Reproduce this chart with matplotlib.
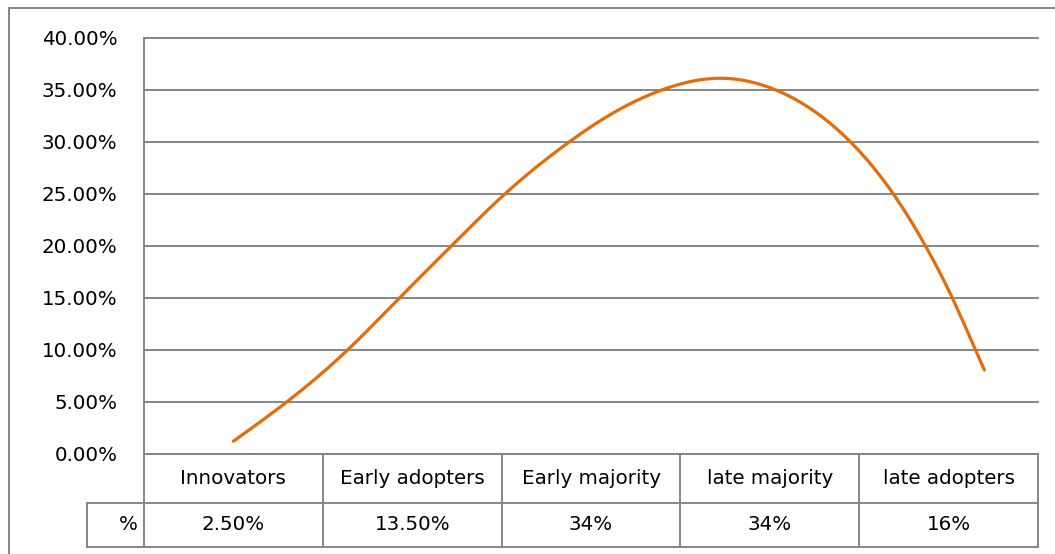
import matplotlib
matplotlib.use("Agg")
import matplotlib.pyplot as plt
import numpy as np
from matplotlib.lines import Line2D

# ---- data ----
categories = ["Innovators", "Early adopters", "Early majority", "late majority", "late adopters"]
table_values = ["2.50%", "13.50%", "34%", "34%", "16%"]
row_label = "%"
# smoothed curve as drawn (category position, percent)
curve_x = [0.0, 0.30, 0.64, 0.93, 1.22, 1.52, 1.88, 2.05, 2.40, 2.72, 3.03, 3.45, 3.69, 3.87, 4.02, 4.15, 4.20]
curve_y = [1.2, 5.0, 10.0, 15.0, 20.0, 25.0, 30.0, 32.0, 35.0, 36.1, 35.0, 30.0, 25.0, 20.0, 15.0, 10.0, 8.05]
yticks = [0, 5, 10, 15, 20, 25, 30, 35, 40]

GRID = "#868686"
LINE = "#E46C0A"
FONT = "DejaVu Sans"
FS = 14.3

W, H = 1055, 554
fig = plt.figure(figsize=(W / 100, H / 100), dpi=100)
fig.patch.set_facecolor("white")

L, R, T, B = 144, 1038, 37.7, 453.7
ax = fig.add_axes([L / W, 1 - B / H, (R - L) / W, (B - T) / H])
ax.set_xlim(-0.5, len(categories) - 0.5)
ax.set_ylim(0, 40)
ax.set_yticks(yticks)
ax.set_yticklabels([f"{v:.2f}%" for v in yticks], fontsize=FS, family=FONT)
ax.set_xticks([])
ax.tick_params(axis="y", length=0, pad=19)
ax.yaxis.grid(True, color=GRID, lw=1.4)
for gl in ax.get_ygridlines():
    gl.set_clip_on(False)
ax.set_axisbelow(True)
for s in ["top", "right"]:
    ax.spines[s].set_visible(False)
for s in ["left", "bottom"]:
    ax.spines[s].set_color(GRID)
    ax.spines[s].set_linewidth(1.4)


def natural_spline(xs, ys, n=400):
    x = np.asarray(xs, float)
    y = np.asarray(ys, float)
    k = len(x)
    h = np.diff(x)
    A = np.zeros((k, k))
    r = np.zeros(k)
    A[0, 0] = A[-1, -1] = 1
    for i in range(1, k - 1):
        A[i, i - 1] = h[i - 1]
        A[i, i] = 2 * (h[i - 1] + h[i])
        A[i, i + 1] = h[i]
        r[i] = 3 * ((y[i + 1] - y[i]) / h[i] - (y[i] - y[i - 1]) / h[i - 1])
    c = np.linalg.solve(A, r)
    b = (y[1:] - y[:-1]) / h - h * (2 * c[:-1] + c[1:]) / 3
    d = (c[1:] - c[:-1]) / (3 * h)
    xx = np.linspace(x[0], x[-1], n)
    idx = np.clip(np.searchsorted(x, xx) - 1, 0, k - 2)
    dx = xx - x[idx]
    yy = y[idx] + b[idx] * dx + c[idx] * dx ** 2 + d[idx] * dx ** 3
    return xx, yy


sx, sy = natural_spline(curve_x, curve_y)
ax.plot(sx, sy, color=LINE, lw=2.3, solid_capstyle="round", clip_on=False)


# ---- data table (drawn in pixel coords) ----
def fx(px):
    return px / W


def fy(py):
    return 1 - py / H


def line(x0, y0, x1, y1, color=GRID, lw=1.4):
    fig.add_artist(Line2D([fx(x0), fx(x1)], [fy(y0), fy(y1)], color=color, lw=lw,
                          transform=fig.transFigure))


row1_top, row1_bot, row2_bot = 453.7, 502.7, 547.3
label_left = 87
col_px = [ax.transData.transform((i - 0.5, 0))[0] * W / fig.bbox.width
          for i in range(len(categories) + 1)]

line(col_px[0], row1_top, col_px[-1], row1_top)
line(label_left, row1_bot, col_px[-1], row1_bot)
line(label_left, row2_bot, col_px[-1], row2_bot)
line(label_left, row1_bot, label_left, row2_bot)
for p in col_px:
    line(p, row1_top, p, row2_bot)

for i, (c, v) in enumerate(zip(categories, table_values)):
    cx = (col_px[i] + col_px[i + 1]) / 2
    fig.text(fx(cx), fy((row1_top + row1_bot) / 2), c, ha="center", va="center",
             fontsize=FS, family=FONT)
    fig.text(fx(cx), fy((row1_bot + row2_bot) / 2), v, ha="center", va="center",
             fontsize=FS, family=FONT)
fig.text(fx(col_px[0] - 6), fy((row1_bot + row2_bot) / 2), row_label, ha="right", va="center",
         fontsize=FS, family=FONT)

# outer chart frame (top and left visible)
line(9, 8, W + 5, 8)
line(9, 8, 9, H + 5)

fig.savefig("out.png", dpi=100)
